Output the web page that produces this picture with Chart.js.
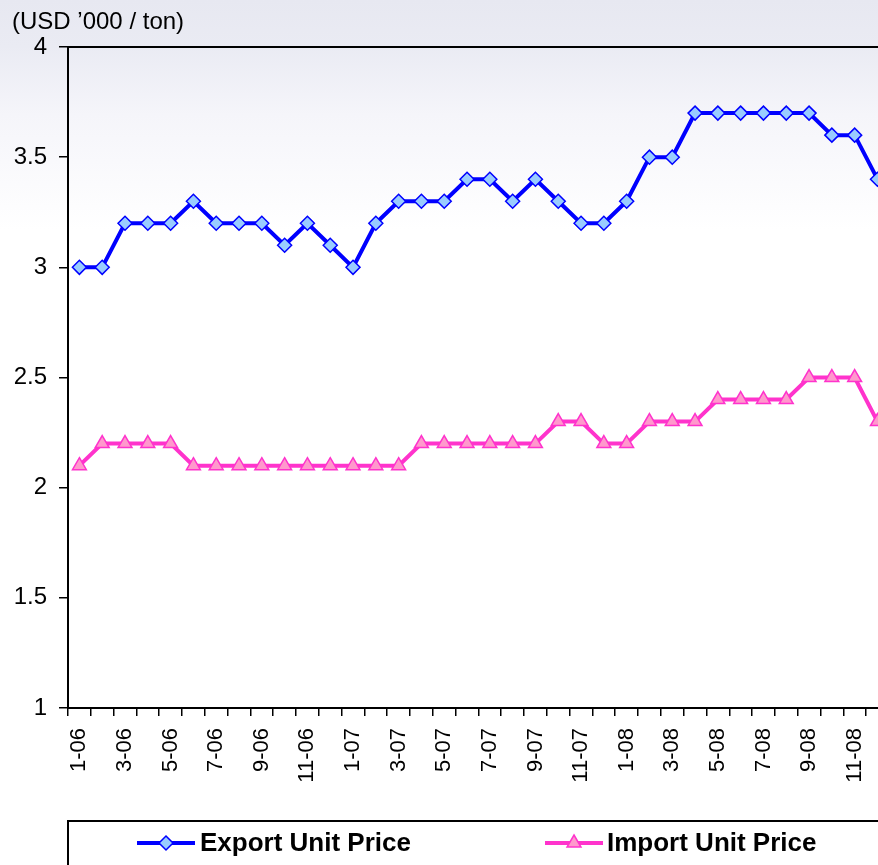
<!DOCTYPE html>
<html>
<head>
<meta charset="utf-8">
<script src="https://cdn.jsdelivr.net/npm/chart.js@4/dist/chart.umd.min.js"></script>
<style>
  html, body { margin: 0; padding: 0; overflow: hidden; background: #fff; }
  #wrap { width: 916px; height: 865px; }
</style>
</head>
<body>
<div id="wrap"><canvas id="chart" width="916" height="865"></canvas></div>
<script>
var months = ['1-06', '2-06', '3-06', '4-06', '5-06', '6-06', '7-06', '8-06', '9-06', '10-06', '11-06', '12-06',
              '1-07', '2-07', '3-07', '4-07', '5-07', '6-07', '7-07', '8-07', '9-07', '10-07', '11-07', '12-07',
              '1-08', '2-08', '3-08', '4-08', '5-08', '6-08', '7-08', '8-08', '9-08', '10-08', '11-08', '12-08'];

var exportPrice = [3.0, 3.0, 3.2, 3.2, 3.2, 3.3, 3.2, 3.2, 3.2, 3.1, 3.2, 3.1,
                   3.0, 3.2, 3.3, 3.3, 3.3, 3.4, 3.4, 3.3, 3.4, 3.3, 3.2, 3.2,
                   3.3, 3.5, 3.5, 3.7, 3.7, 3.7, 3.7, 3.7, 3.7, 3.6, 3.6, 3.4];

var importPrice = [2.1, 2.2, 2.2, 2.2, 2.2, 2.1, 2.1, 2.1, 2.1, 2.1, 2.1, 2.1,
                   2.1, 2.1, 2.1, 2.2, 2.2, 2.2, 2.2, 2.2, 2.2, 2.3, 2.3, 2.2,
                   2.2, 2.3, 2.3, 2.3, 2.4, 2.4, 2.4, 2.4, 2.5, 2.5, 2.5, 2.3];

var yTicks = [1, 1.5, 2, 2.5, 3, 3.5, 4];
var unitLabel = '(USD \u2019000 / ton)';

// background gradient, title, plot top border and the boxed legend
var decor = {
    id: 'decor',
    beforeDraw: function (chart) {
        var c = chart.ctx;
        var g = c.createLinearGradient(0, 0, 0, 230);
        g.addColorStop(0, '#e7e8f1');
        g.addColorStop(0.2, '#eaebf3');
        g.addColorStop(0.5, '#f5f5fa');
        g.addColorStop(1, '#ffffff');
        c.save();
        c.fillStyle = g;
        c.fillRect(0, 0, chart.width, chart.height);
        c.restore();
    },
    afterDraw: function (chart) {
        var c = chart.ctx;
        var a = chart.chartArea;
        c.save();
        c.fillStyle = '#000';
        c.font = '24px "Liberation Sans", Arial, sans-serif';
        c.textBaseline = 'alphabetic';
        c.fillText(unitLabel, 12, 29);

        c.strokeStyle = '#000';
        c.lineWidth = 2;
        c.beginPath();
        c.moveTo(a.left, a.top);
        c.lineTo(chart.width, a.top);
        c.stroke();

        // legend box
        c.strokeRect(a.left, 821, chart.width, 80);

        var items = [{x: 137, tx: 200}, {x: 545, tx: 607}];
        chart.data.datasets.forEach(function (ds, i) {
            var it = items[i];
            var y = 843;
            c.strokeStyle = ds.borderColor;
            c.lineWidth = 4;
            c.beginPath();
            c.moveTo(it.x, y);
            c.lineTo(it.x + 58, y);
            c.stroke();
            c.fillStyle = ds.pointBackgroundColor;
            c.strokeStyle = ds.pointBorderColor;
            c.lineWidth = ds.pointBorderWidth;
            c.beginPath();
            drawMarker(c, ds.pointStyle, ds.pointRadius, it.x + 29, y);
            c.fill();
            c.stroke();
            c.fillStyle = '#000';
            c.font = 'bold 26px "Liberation Sans", Arial, sans-serif';
            c.textBaseline = 'middle';
            c.fillText(ds.label, it.tx, y + 1);
        });
        c.restore();
    }
};

function drawMarker(c, style, r, x, y) {
    if (style === 'rectRot') {
        c.moveTo(x, y - r);
        c.lineTo(x + r, y);
        c.lineTo(x, y + r);
        c.lineTo(x - r, y);
        c.closePath();
    } else {
        c.moveTo(x, y - r);
        c.lineTo(x + r * 0.87, y + r * 0.5);
        c.lineTo(x - r * 0.87, y + r * 0.5);
        c.closePath();
    }
}

var ctx = document.getElementById('chart').getContext('2d');
var myChart = new Chart(ctx, {
    type: 'line',
    data: {
        labels: months,
        datasets: [{
            label: 'Export Unit Price',
            data: exportPrice,
            borderColor: '#0000ff',
            borderWidth: 4,
            pointStyle: 'rectRot',
            pointRadius: 7,
            pointBackgroundColor: '#99ccff',
            pointBorderColor: '#0000ff',
            pointBorderWidth: 1.5,
            tension: 0
        }, {
            label: 'Import Unit Price',
            data: importPrice,
            borderColor: '#ff33cc',
            borderWidth: 4,
            pointStyle: 'triangle',
            pointRadius: 8,
            pointBackgroundColor: '#ff99cc',
            pointBorderColor: '#ff33cc',
            pointBorderWidth: 1.5,
            tension: 0
        }]
    },
    options: {
        responsive: false,
        animation: false,
        devicePixelRatio: 1,
        layout: {
            padding: {top: 47, left: 13, right: 0, bottom: 0}
        },
        plugins: {
            legend: {display: false},
            tooltip: {enabled: false}
        },
        scales: {
            x: {
                offset: true,
                grid: {
                    offset: true,
                    drawOnChartArea: false,
                    drawTicks: true,
                    tickLength: 8,
                    color: '#000',
                    lineWidth: 1.5
                },
                border: {display: true, color: '#000', width: 2},
                ticks: {
                    autoSkip: false,
                    minRotation: 90,
                    maxRotation: 90,
                    padding: 12,
                    color: '#000',
                    font: {family: '"Liberation Sans", Arial, sans-serif', size: 22},
                    callback: function (v, i) {
                        return i % 2 === 0 ? months[i] : '';
                    }
                },
                afterFit: function (scale) {
                    scale.height = 157;
                }
            },
            y: {
                min: 1,
                max: 4,
                grid: {
                    drawOnChartArea: false,
                    drawTicks: true,
                    tickLength: 9,
                    color: '#000',
                    lineWidth: 1.5
                },
                border: {display: true, color: '#000', width: 2},
                afterBuildTicks: function (scale) {
                    scale.ticks = yTicks.map(function (v) { return {value: v}; });
                },
                ticks: {
                    padding: 12,
                    color: '#000',
                    font: {family: '"Liberation Sans", Arial, sans-serif', size: 24},
                    callback: function (v) { return String(v); }
                },
                afterFit: function (scale) {
                    scale.width = 55;
                }
            }
        }
    },
    plugins: [decor]
});
</script>
</body>
</html>
